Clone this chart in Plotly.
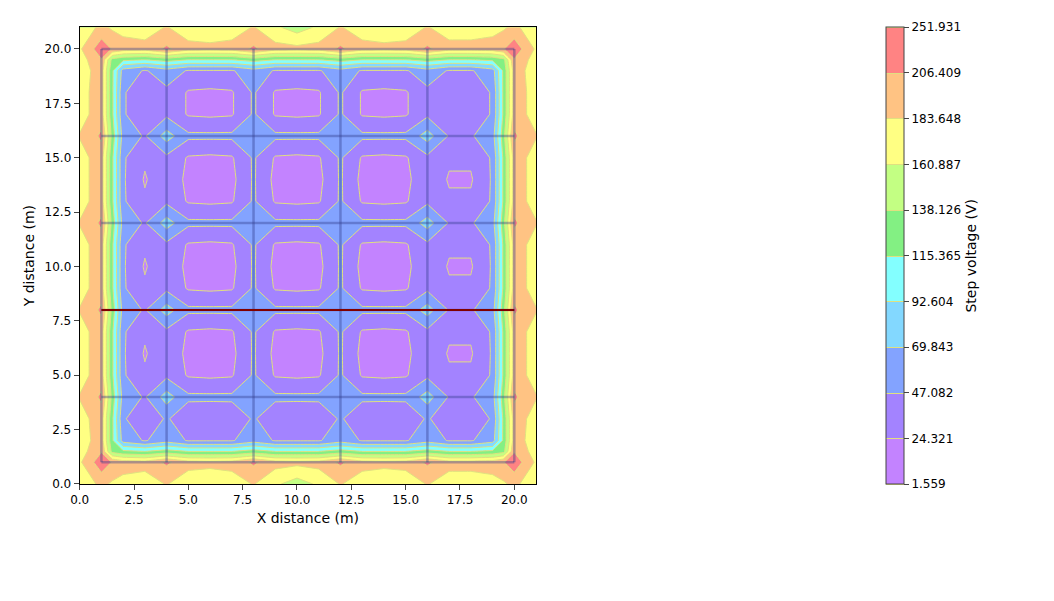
import numpy as np
import plotly.graph_objects as go

xs = [0, 1, 1.5, 2, 3, 4, 5, 6, 7, 8, 9, 10, 11, 12, 13, 14, 15, 16, 17, 18, 19, 19.5, 20, 21]
ys = xs
R0  = [165,190,180,175,172,185,170,168,172,185,165,150,165,185,172,168,170,185,172,172,175,180,190,165]
R1  = [180,235,205,195,192,215,192,190,192,215,192,190,192,215,192,190,192,215,192,192,195,205,235,180]
R15 = [172,205,130,120,115,125,115,115,115,125,115,115,115,125,115,115,115,125,115,115,120,130,205,172]
R2  = [172,195,120,60,45,60,45,45,45,60,45,45,45,60,45,45,45,60,45,45,60,120,195,172]
R3  = [175,195,120,50,30,50,30,28,30,50,30,28,30,50,30,28,30,50,30,30,50,120,195,175]
Rc  = [185,215,130,60,45,80,52,52,52,56,52,52,52,56,52,52,52,80,45,45,60,130,215,185]
Rn  = [175,195,120,50,28,42,22,20,22,50,22,20,22,50,22,20,22,42,28,28,50,120,195,175]
Rm  = [175,195,120,50,22,42,18,12,18,50,18,12,18,50,18,12,18,42,22,22,50,120,195,175]
z = [R0, R1, R15, R2, R3, Rc, Rn, Rm, Rn, Rc, Rn, Rm, Rn, Rc, Rn, Rm, Rn, Rc, Rn, Rn, R2, R15, R1, R0]

levels = [1.559, 24.321, 47.082, 69.843, 92.604, 115.365, 138.126, 160.887, 183.648, 206.409, 251.931]
colors = ['#c383ff', '#a383ff', '#83a3ff', '#83d8ff', '#83ffff', '#83f083',
          '#c3ff83', '#ffff83', '#ffc383', '#ff8383']
conductors = [1, 4, 8, 12, 16, 20]

# map values to level-index space so the colorbar bands are evenly spaced
n = len(levels) - 1
zi = np.interp(np.array(z, dtype=float), levels, np.arange(n + 1))
cs = []
for i, c in enumerate(colors):
    cs += [[i / n, c], [(i + 1) / n, c]]

fig = go.Figure()
fig.add_trace(go.Contour(
    x=xs, y=ys, z=zi, zmin=0, zmax=n, colorscale=cs,
    contours=dict(start=0, end=n, size=1, coloring='fill'),
    line=dict(color='#e0e080', width=1, smoothing=0),
    colorbar=dict(tickvals=list(range(n + 1)), ticktext=[f'{v:.3f}' for v in levels],
                  title=dict(text='Step voltage (V)', side='right'),
                  x=0.833, xanchor='left', xpad=0, ypad=0, len=0.76, y=0.968, yanchor='top',
                  thickness=18, outlinewidth=1, ticks='outside', tickfont=dict(size=12))))
for c in conductors:
    fig.add_trace(go.Scatter(x=[c, c], y=[1, 20], mode='lines', line=dict(color='rgba(50,60,140,0.4)', width=2.5), showlegend=False, hoverinfo='skip'))
    fig.add_trace(go.Scatter(x=[1, 20], y=[c, c], mode='lines', line=dict(color='rgba(50,60,140,0.4)', width=2.5), showlegend=False, hoverinfo='skip'))
fig.add_trace(go.Scatter(x=[1, 20], y=[8, 8], mode='lines', line=dict(color='#800000', width=2), showlegend=False))

fig.update_layout(
    width=1054, height=601, plot_bgcolor='white', paper_bgcolor='white',
    margin=dict(l=0, r=0, t=0, b=0), showlegend=False,
    font=dict(family='DejaVu Sans', size=12, color='black'),
    xaxis=dict(domain=[0.068, 0.501], range=[0, 21], title=dict(text='X distance (m)', standoff=6), dtick=2.5,
               tickformat='.1f', showgrid=False, zeroline=False, showline=True, mirror=True,
               linecolor='black', ticks='outside', automargin=False),
    yaxis=dict(domain=[0.208, 0.968], range=[0, 21], title=dict(text='Y distance (m)', standoff=6), dtick=2.5,
               tickformat='.1f', showgrid=False, zeroline=False, showline=True, mirror=True,
               linecolor='black', ticks='outside', automargin=False))
fig.write_html('out.html')
